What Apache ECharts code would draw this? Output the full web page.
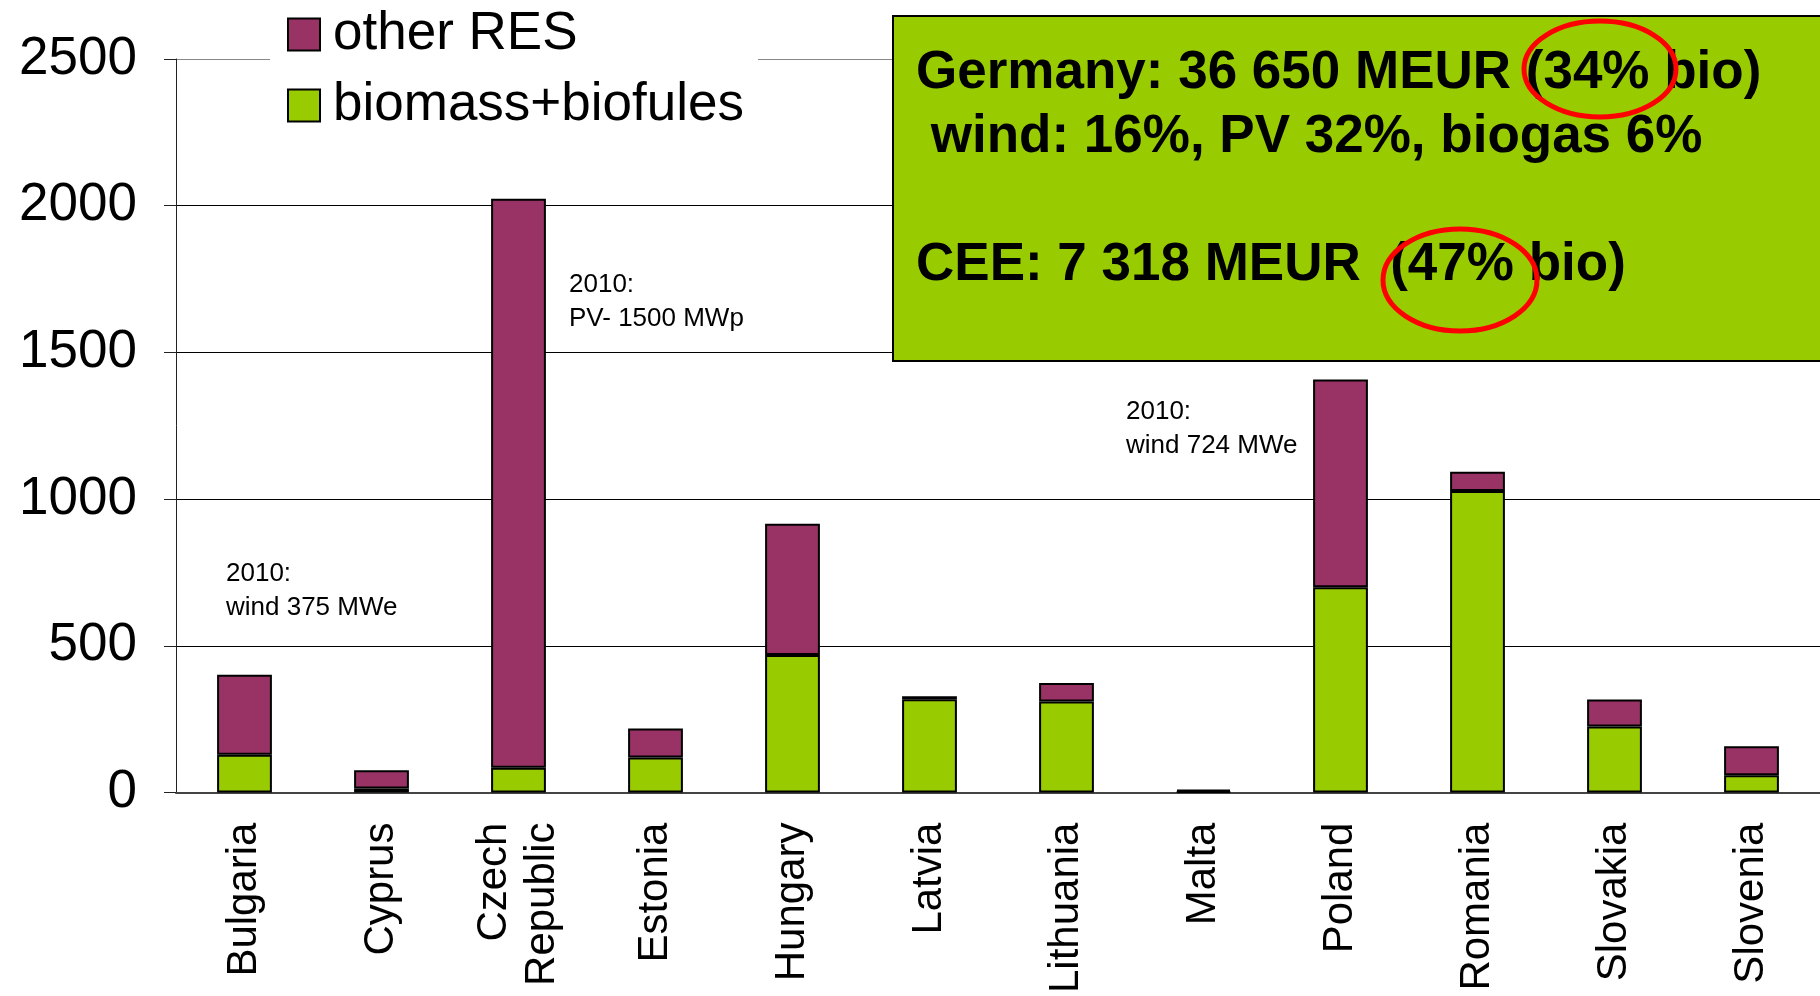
<!DOCTYPE html>
<html>
<head>
<meta charset="utf-8">
<script src="https://cdn.jsdelivr.net/npm/echarts@6/dist/echarts.min.js"></script>
<style>
  html, body { margin: 0; padding: 0; background: #fff; }
  #chart { width: 1820px; height: 996px; }
</style>
</head>
<body>
<div id="chart"></div>
<script>
    // categories and values (MEUR)
    var countries = ['Bulgaria', 'Cyprus', 'Czech\nRepublic', 'Estonia', 'Hungary', 'Latvia',
        'Lithuania', 'Malta', 'Poland', 'Romania', 'Slovakia', 'Slovenia'];
    var biomass = [129, 14, 84, 119, 469, 318, 310, 4, 700, 1028, 225, 59];
    var otherRes = [272, 62, 1940, 99, 447, 10, 63, 6, 708, 65, 92, 99];
    var yTicks = [0, 500, 1000, 1500, 2000, 2500];

    var seriesNames = ['other RES', 'biomass+biofules'];
    var boxLines = [
        'Germany: 36 650 MEUR (34% bio)',
        ' wind: 16%, PV 32%, biogas 6%',
        '',
        'CEE: 7 318 MEUR  (47% bio)'
    ];

    var font = '"Liberation Sans", Arial, sans-serif';
    var chart = echarts.init(document.getElementById('chart'));

    var option = {
        animation: false,
        backgroundColor: '#fff',
        textStyle: { fontFamily: font },
        grid: { left: 176, right: 0, top: 59, bottom: 202 },
        legend: {
            data: seriesNames,
            orient: 'vertical',
            left: 270,
            top: 3,
            padding: [5, 14, 10, 17],
            itemGap: 18,
            itemWidth: 32,
            itemHeight: 32,
            backgroundColor: '#fff',
            icon: 'rect',
            itemStyle: { borderColor: '#000', borderWidth: 2 },
            textStyle: { fontSize: 53, color: '#000', fontFamily: font, padding: [0, 0, 0, 8] },
            z: 10
        },
        xAxis: {
            type: 'category',
            data: countries,
            axisLine: { lineStyle: { color: '#444', width: 2 } },
            axisTick: { length: 13, lineStyle: { color: '#444' } },
            axisLabel: {
                interval: 0,
                rotate: 90,
                margin: 30,
                fontSize: 42,
                lineHeight: 48,
                color: '#000',
                fontFamily: font
            }
        },
        yAxis: {
            type: 'value',
            min: yTicks[0],
            max: yTicks[yTicks.length - 1],
            interval: 500,
            axisLine: { show: true, lineStyle: { color: '#222', width: 1 } },
            axisTick: { show: true, length: 12, lineStyle: { color: '#222' } },
            axisLabel: {
                fontSize: 53, color: '#000', margin: 39, fontFamily: font,
                formatter: function (v) { return String(v); }
            },
            splitLine: {
                lineStyle: { color: ['#000', '#000', '#000', '#000', '#000', '#888'], width: 1 }
            }
        },
        series: [
            {
                name: 'biomass+biofules',
                type: 'bar',
                stack: 'res',
                barWidth: '40%',
                data: biomass,
                itemStyle: { color: '#99CC00', borderColor: '#000', borderWidth: 2 }
            },
            {
                name: 'other RES',
                type: 'bar',
                stack: 'res',
                barWidth: '40%',
                data: otherRes,
                itemStyle: { color: '#993366', borderColor: '#000', borderWidth: 2 }
            }
        ],
        graphic: [
            // notes
            {
                type: 'text', left: 226, top: 557, z: 20,
                style: { text: '2010:\nwind 375 MWe', font: '26px ' + font, lineHeight: 34, fill: '#000' }
            },
            {
                type: 'text', left: 569, top: 268, z: 20,
                style: { text: '2010:\nPV- 1500 MWp', font: '26px ' + font, lineHeight: 34, fill: '#000' }
            },
            {
                type: 'text', left: 1126, top: 395, z: 20,
                style: { text: '2010:\nwind 724 MWe', font: '26px ' + font, lineHeight: 34, fill: '#000' }
            },
            // green box
            {
                type: 'rect', z: 30,
                shape: { x: 893, y: 16, width: 940, height: 345 },
                style: { fill: '#99CC00', stroke: '#000', lineWidth: 2 }
            },
            {
                type: 'text', z: 31, x: 916, y: 41,
                style: {
                    text: boxLines.join('\n'),
                    font: 'bold 53px ' + font,
                    lineHeight: 64,
                    fill: '#000'
                }
            },
            {
                type: 'ellipse', z: 32,
                shape: { cx: 1600, cy: 69, rx: 76, ry: 48 },
                style: { fill: 'none', stroke: '#FF0000', lineWidth: 5 }
            },
            {
                type: 'ellipse', z: 32,
                shape: { cx: 1460, cy: 280, rx: 77, ry: 51 },
                style: { fill: 'none', stroke: '#FF0000', lineWidth: 5 }
            }
        ]
    };

    chart.setOption(option);
</script>
</body>
</html>
